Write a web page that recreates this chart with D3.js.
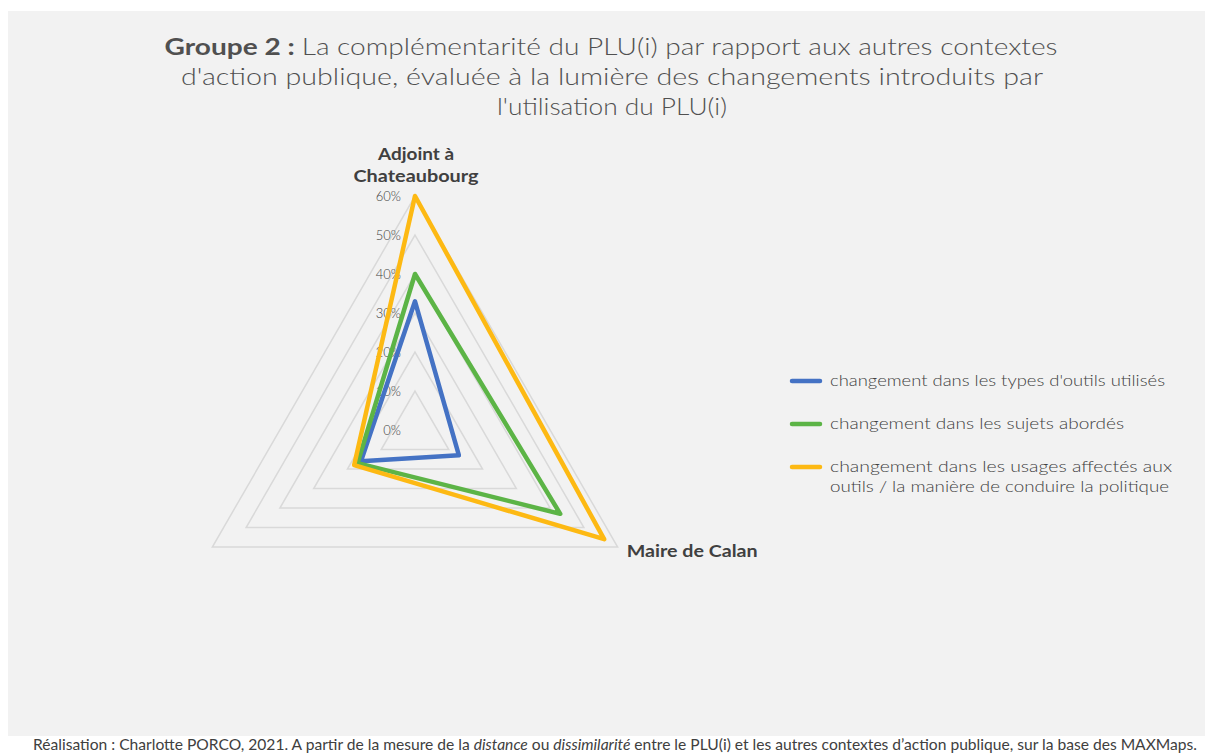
<!DOCTYPE html>
<html>
<head>
<meta charset="utf-8">
<script src="https://cdn.jsdelivr.net/npm/d3@7"></script>
<style>
  body { margin: 0; background: #fff; }
  svg { display: block; }
  text { font-family: "Lato", "Noto Sans", sans-serif; }
</style>
</head>
<body>
<svg id="chart" width="1205" height="753"></svg>
<script>
// axes of the radar (the third one has no label)
var axes = ['Adjoint à Chateaubourg', 'Maire de Calan', ''];
var seriesNames = [
    "changement dans les types d'outils utilisés",
    'changement dans les sujets abordés',
    'changement dans les usages affectés aux outils / la manière de conduire la politique'
];
var outilsValues = [0.33, 0.13, 0.16];
var sujetsValues = [0.40, 0.43, 0.17];
var usagesValues = [0.60, 0.56, 0.18];
var ticks = [0, 0.1, 0.2, 0.3, 0.4, 0.5, 0.6];

var colors = ['#4472c4', '#5cb446', '#fdb913'];
var series = [outilsValues, sujetsValues, usagesValues];

var svg = d3.select('#chart'),
    cx = 415, cy = 430;

svg.append('rect').attr('x', 8).attr('y', 11).attr('width', 1197).attr('height', 725).attr('fill', '#f2f2f2');

// stretch a text to a given width (the original font is much wider)
var fit = function(sel, w) {
    return sel.attr('textLength', w).attr('lengthAdjust', 'spacingAndGlyphs');
};

// title
var title = svg.append('g').attr('fill', '#505050').attr('font-size', 23).attr('font-weight', 300).attr('text-anchor', 'middle');
var t1 = fit(title.append('text').attr('x', 611).attr('y', 55), 893);
t1.append('tspan').attr('font-weight', 'bold').text('Groupe 2 : ');
t1.append('tspan').text('La complémentarité du PLU(i) par rapport aux autres contextes');
fit(title.append('text').attr('x', 612).attr('y', 85), 862).text("d'action publique, évaluée à la lumière des changements introduits par");
fit(title.append('text').attr('x', 612).attr('y', 115), 230).text("l'utilisation du PLU(i)");

var r = d3.scaleLinear().domain([0, 0.6]).range([0, 234]);
var angle = d3.scaleLinear().domain([0, axes.length]).range([0, 2 * Math.PI]);

var point = function(v, i) {
    var a = angle(i);
    return [cx + r(v) * Math.sin(a), cy - r(v) * Math.cos(a)];
};
var poly = function(vals) {
    return 'M' + vals.map(function(v, i) { return point(v, i).join(','); }).join('L') + 'Z';
};

// grid
var grid = svg.append('g');
ticks.slice(1).forEach(function(t) {
    grid.append('path')
        .attr('d', poly(axes.map(function() { return t; })))
        .attr('fill', 'none')
        .attr('stroke', '#d9d9d9')
        .attr('stroke-width', 1.5);
});

// tick labels
svg.append('g').selectAll('text').data(ticks).join('text')
    .attr('x', cx - 14)
    .attr('y', function(d) { return cy - r(d) + 5; })
    .attr('text-anchor', 'end')
    .attr('font-size', 13)
    .attr('font-weight', 300)
    .attr('fill', '#404040')
    .text(function(d) { return d3.format('.0%')(d); });

// series
svg.append('g').selectAll('path').data(series).join('path')
    .attr('d', poly)
    .attr('fill', 'none')
    .attr('stroke', function(d, i) { return colors[i]; })
    .attr('stroke-width', 4.5)
    .attr('stroke-linejoin', 'round');

// axis labels
var lab = svg.append('g').attr('fill', '#404040').attr('font-size', 17).attr('font-weight', 'bold');
fit(lab.append('text').attr('text-anchor', 'middle').attr('x', cx + 1).attr('y', 160), 76).text('Adjoint à');
fit(lab.append('text').attr('text-anchor', 'middle').attr('x', cx + 1).attr('y', 182), 125).text('Chateaubourg');
var br = point(0.6, 1);
fit(lab.append('text').attr('x', br[0] + 9).attr('y', br[1] + 10), 131).text(axes[1]);

// legend
var legend = svg.append('g').attr('font-size', 16).attr('font-weight', 300).attr('fill', '#404040');
var legendY = [381, 424, 467];
var legendW = [335, 294, 342];
seriesNames.forEach(function(name, i) {
    var g = legend.append('g').attr('transform', 'translate(790,' + legendY[i] + ')');
    g.append('line').attr('x1', 2).attr('x2', 30)
        .attr('stroke', colors[i]).attr('stroke-width', 4.5).attr('stroke-linecap', 'round');
    if (i === 2) {
        fit(g.append('text').attr('x', 40).attr('y', 5), 342).text('changement dans les usages affectés aux');
        fit(g.append('text').attr('x', 40).attr('y', 25), 339).text('outils / la manière de conduire la politique');
    } else {
        fit(g.append('text').attr('x', 40).attr('y', 5), legendW[i]).text(name);
    }
});

// source (cut by the bottom edge, as in the original)
var src = fit(svg.append('text').attr('x', 33).attr('y', 750).attr('font-size', 15).attr('fill', '#404040')
    .attr('font-family', '"Liberation Sans Narrow", "Open Sans", sans-serif'), 1164);
src.append('tspan').text('Réalisation : Charlotte PORCO, 2021. A partir de la mesure de la ');
src.append('tspan').attr('font-style', 'italic').text('distance');
src.append('tspan').text(' ou ');
src.append('tspan').attr('font-style', 'italic').text('dissimilarité');
src.append('tspan').text(' entre le PLU(i) et les autres contextes d\u2019action publique, sur la base des MAXMaps.');
</script>
</body>
</html>
